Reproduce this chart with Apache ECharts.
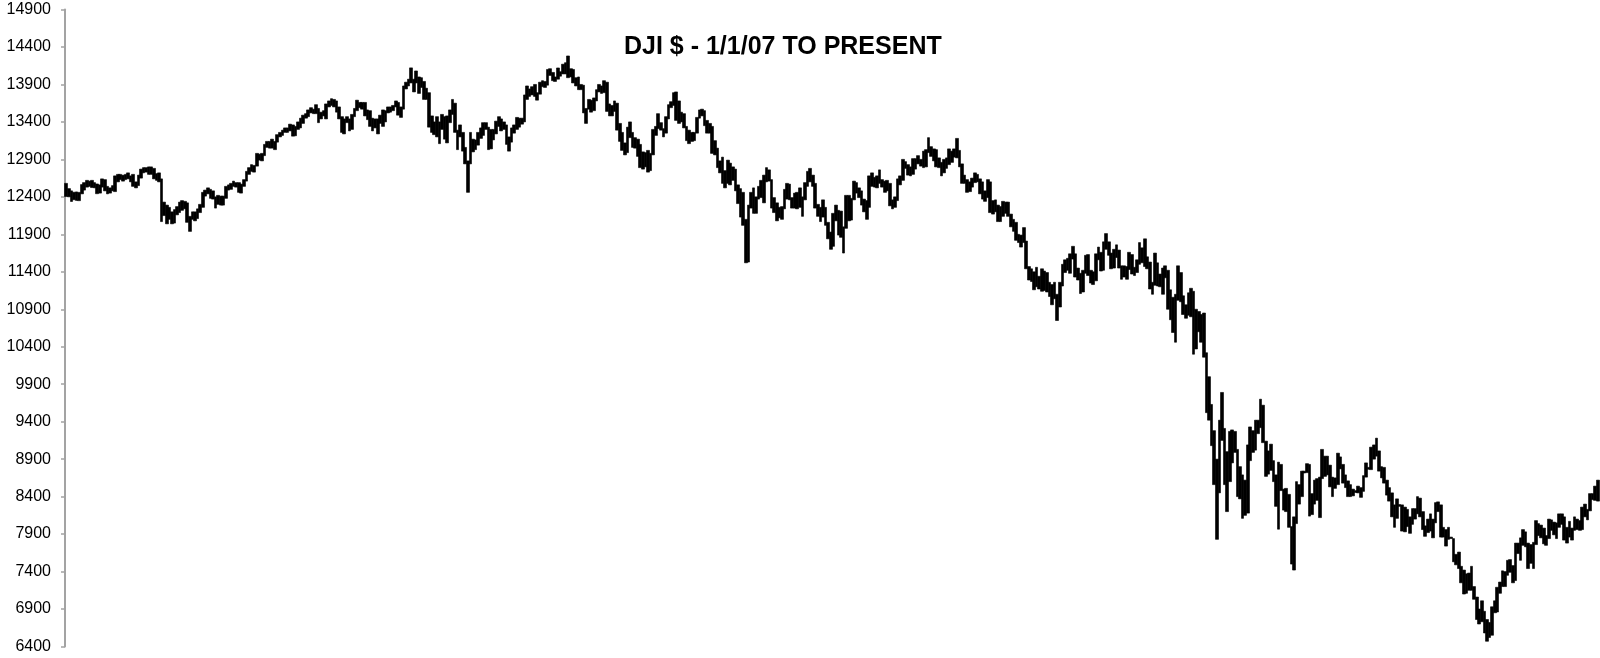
<!DOCTYPE html>
<html>
<head>
<meta charset="utf-8">
<script src="https://cdn.jsdelivr.net/npm/echarts@6/dist/echarts.min.js"></script>
<style>
  html, body { margin: 0; padding: 0; background: #ffffff; }
  #chart { width: 1600px; height: 658px; }
</style>
</head>
<body>
<div id="chart"></div>
<script>
// ---- DATA: daily [low, high] of the DJI ----
const titleText = 'DJI $ - 1/1/07 TO PRESENT';
const yMin = 6400, yMax = 14900, yStep = 500;

const hl2007 = [
  // Jan
  [12404,12580],[12400,12510],[12338,12480],[12361,12462],[12352,12466],[12349,12460],[12440,12564],[12490,12590],[12530,12620],[12540,12610],[12524,12620],[12520,12590],[12442,12572],[12450,12560],[12530,12640],[12480,12630],[12440,12540],[12450,12520],[12480,12550],[12470,12680],
  // Feb
  [12600,12700],[12630,12700],[12610,12690],[12630,12700],[12640,12720],[12600,12680],[12540,12700],[12520,12600],[12550,12690],[12650,12770],[12720,12790],[12730,12790],[12700,12800],[12700,12800],[12640,12780],[12620,12710],[12600,12720],[12070,12640],[12150,12330],
  // Mar
  [12040,12290],[12100,12260],[12040,12200],[12050,12230],[12160,12270],[12190,12330],[12220,12350],[12240,12340],[12060,12320],[11939,12140],[12100,12200],[12080,12200],[12110,12240],[12190,12300],[12260,12460],[12410,12490],[12440,12520],[12380,12500],[12370,12480],[12250,12400],[12300,12420],[12290,12410],
  // Apr
  [12290,12410],[12380,12540],[12490,12560],[12500,12580],[12540,12610],[12530,12590],[12460,12590],[12450,12570],[12540,12630],[12610,12740],[12700,12790],[12740,12830],[12730,12820],[12810,12980],[12890,12970],[12880,12980],[12950,13100],[13060,13140],[13050,13140],[13050,13170],
  // May
  [13030,13140],[13130,13230],[13200,13260],[13220,13290],[13260,13320],[13260,13320],[13280,13370],[13210,13360],[13215,13340],[13300,13400],[13320,13450],[13380,13490],[13450,13510],[13470,13560],[13520,13590],[13510,13570],[13510,13630],[13390,13580],[13440,13530],[13480,13550],[13440,13640],[13600,13680],
  // Jun
  [13620,13710],[13600,13700],[13530,13680],[13440,13600],[13260,13470],[13240,13440],[13390,13470],[13280,13440],[13300,13500],[13470,13580],[13550,13690],[13590,13660],[13570,13660],[13480,13660],[13430,13560],[13340,13550],[13280,13450],[13320,13440],[13240,13440],[13380,13490],[13340,13560],
  // Jul
  [13400,13550],[13520,13600],[13530,13600],[13550,13620],[13600,13680],[13490,13660],[13460,13600],[13570,13880],[13840,13930],[13880,13970],[13920,14121],[13800,13970],[13920,14080],[13780,14000],[13860,13990],[13700,13940],[13700,13850],[13330,13790],[13260,13480],[13230,13400],[13200,13470],
  // Aug
  [13110,13400],[13300,13500],[13170,13470],[13120,13480],[13390,13560],[13500,13700],[13260,13650],[13030,13290],[13200,13360],[13010,13260],[12840,13060],[12460,12880],[12840,13260],[13000,13170],[13030,13160],[13090,13260],[13180,13320],[13220,13390],[13300,13390],[13030,13330],[13040,13300],[13160,13300],[13240,13410],
  // Sep
  [13340,13470],[13280,13440],[13300,13400],[13100,13360],[13010,13200],[13130,13320],[13250,13360],[13300,13460],[13330,13450],[13370,13450],[13400,13760],[13700,13880],[13740,13840],[13760,13870],[13740,13900],[13690,13790],[13770,13930],[13870,13950],[13860,13940],
  // Oct
  [13890,14100],[14020,14110],[13950,14060],[13940,14000],[13970,14120],[14010,14070],[14040,14170],[14040,14190],[13990,14280],[14000,14110],[13920,14100],[13880,13990],[13830,14000],[13830,13900],[13520,13890],[13380,13580],[13570,13700],[13530,13690],[13550,13720],[13680,13830],[13800,13900],[13780,13880],[13790,13950],
  // Nov
  [13540,13930],[13480,13640],[13480,13620],[13540,13680],[13290,13650],[13140,13380],[13020,13260],[12960,13120],[12990,13330],[13190,13400],[13060,13260],[13050,13190],[12940,13170],[12790,13100],[12770,13000],[12800,12990],[12730,13020],[12750,12980],[12960,13300],[13220,13340],[13310,13510],
  // Dec
  [13290,13390],[13200,13310],[13250,13470],[13440,13630],[13590,13670],[13620,13790],[13420,13800],[13380,13680],[13400,13530],[13320,13510],[13150,13340],[13110,13290],[13140,13260],[13150,13260],[13250,13460],[13450,13560],[13480,13570],[13350,13550],[13250,13420],[13250,13380]
];

const hl2008 = [
  // Jan
  [12980,13340],[12960,13150],[12790,13050],[12720,12880],[12580,12930],[12520,12750],[12580,12890],[12560,12850],[12620,12800],[12480,12770],[12310,12560],[12130,12510],[12020,12460],[11520,12100],[11530,12290],[12250,12460],[12180,12520],[12180,12400],[12370,12540],[12390,12620],[12320,12690],
  // Feb
  [12600,12790],[12610,12760],[12250,12630],[12190,12390],[12080,12320],[12120,12260],[12100,12270],[12240,12500],[12370,12580],[12360,12570],[12250,12390],[12250,12450],[12240,12460],[12260,12520],[12140,12400],[12360,12590],[12540,12740],[12600,12780],[12540,12690],[12250,12580],
  // Mar
  [12140,12300],[12070,12260],[12130,12360],[12020,12260],[11840,12060],[11700,11930],[11740,12180],[12080,12290],[11890,12220],[11860,12210],[11650,12000],[11980,12420],[12080,12420],[12090,12380],[12360,12610],[12450,12590],[12390,12520],[12290,12480],[12200,12370],[12100,12350],
  // Apr
  [12260,12680],[12540,12720],[12530,12660],[12520,12680],[12580,12760],[12530,12630],[12460,12610],[12480,12620],[12280,12580],[12240,12360],[12260,12400],[12350,12640],[12560,12680],[12620,12900],[12780,12870],[12690,12830],[12680,12800],[12700,12910],[12770,12910],[12840,12950],[12810,12900],[12790,13010],
  // May
  [12800,13030],[12990,13190],[12940,13070],[12880,13040],[12800,13030],[12790,12920],[12680,12860],[12720,12900],[12780,12920],[12830,13040],[12860,13010],[12930,13040],[12920,13180],[12800,13020],[12580,12840],[12580,12690],[12460,12630],[12470,12600],[12530,12650],[12590,12720],[12600,12700],
  // Jun
  [12440,12640],[12370,12600],[12340,12480],[12390,12630],[12190,12600],[12170,12350],[12200,12360],[12070,12290],[12070,12270],[12140,12340],[12180,12330],[12140,12330],[12000,12170],[11940,12100],[11820,12060],[11790,11900],[11730,11890],[11790,11990],[11440,11810],[11290,11470],[11270,11440],
  // Jul
  [11160,11400],[11200,11460],[11170,11340],[11140,11440],[11150,11410],[11130,11390],[11070,11260],[10960,11230],[11040,11260],[10750,11100],[10930,11260],[11210,11500],[11390,11560],[11420,11580],[11380,11640],[11570,11740],[11330,11640],[11290,11450],[11110,11380],[11130,11420],[11380,11620],[11350,11630],
  // Aug
  [11250,11420],[11230,11400],[11280,11640],[11560,11730],[11410,11660],[11420,11800],[11700,11910],[11620,11800],[11440,11650],[11450,11700],[11590,11760],[11450,11690],[11300,11480],[11330,11480],[11300,11470],[11430,11660],[11370,11630],[11350,11460],[11390,11560],[11500,11790],[11520,11720],
  // Sep
  [11470,11840],[11440,11600],[11170,11530],[11100,11260],[11220,11650],[11210,11520],[11200,11370],[11100,11450],[11320,11480],[10900,11420],[10760,11160],[10590,11060],[10460,11100],[11020,11480],[11000,11390],[10830,11080],[10780,10960],[10820,11120],[10800,11180],[10300,11140],[10370,10900],
  // Oct
  [10600,10870],[10460,10830],[10260,10850],[9520,10320],[9420,10000],[9080,9630],[8560,9280],[7830,8900],[8450,9420],[9150,9790],[8560,9310],[8200,9000],[8600,9270],[8850,9290],[8990,9270],[8400,9030],[8370,8800],[8110,8690],[8150,8620],[8180,9090],[8880,9330],[8990,9280],[9020,9420],
  // Nov
  [9240,9420],[9320,9700],[9120,9620],[8670,9140],[8700,9010],[8750,9100],[8600,8880],[8270,8690],[7965,8860],[8480,8830],[8220,8500],[8200,8510],[7990,8430],[7500,8000],[7420,8130],[8040,8600],[8300,8560],[8400,8740],[8715,8740],[8720,8840],
  // Dec
  [8140,8830],[8160,8440],[8300,8620],[8350,8640],[8120,8660],[8640,9030],[8670,8940],[8690,8940],[8530,8820],[8400,8660],[8510,8650],[8560,8980],[8770,8930],[8580,8830],[8520,8690],[8400,8610],[8400,8560],[8410,8500],[8455,8480],[8450,8540],[8390,8520],[8470,8680],[8660,8850]
];

const hl2009 = [
  // Jan
  [8765,8790],[8760,9060],[8900,9090],[8940,9180],[8740,9010],[8650,8800],[8580,8790],[8420,8620],[8340,8520],[8130,8450],[7990,8290],[8110,8370],[8270,8295],[7940,8290],[7930,8260],[8000,8230],[7910,8130],[8030,8240],[8100,8240],[8170,8400],[8130,8380],[7960,8200],
  // Feb
  [7870,8010],[7920,8100],[7940,8170],[7850,8100],[8050,8320],[8200,8330],[7860,8290],[7860,7990],[7740,7960],[7830,7990],[7840,7860],[7530,7840],[7490,7630],[7440,7660],[7250,7470],[7100,7420],[7110,7370],[7150,7380],[7150,7470],[7030,7200],
  // Mar
  [6760,7060],[6700,6900],[6730,7010],[6580,6870],[6470,6760],[6520,6720],[6550,6930],[6850,7010],[6860,7190],[7110,7260],[7200,7410],[7200,7400],[7350,7550],[7390,7560],[7250,7480],[7280,7780],[7640,7780],[7550,7850],[7750,7960],[7730,7930],[7440,7780],[7510,7760],
  // Apr
  [7440,7790],[7760,8080],[7880,8040],[7850,8020],[7770,7980],[7750,7880],[7840,8100],[7950,8090],[7890,8060],[7840,8050],[7990,8170],[8030,8170],[7820,8130],[7780,7990],[7860,8070],[7820,7980],[7950,8130],[7960,8100],[7950,8080],[7960,8260],[8130,8300],
  // May
  [8090,8230],[8210,8440],[8360,8440],[8350,8540],[8340,8620]
];

// exchange-closed days that do not appear as bars in the source data
const closedDays = ['2007-01-15','2007-02-19','2007-04-06','2007-05-28','2007-07-04','2007-09-03','2007-11-22','2007-12-25',
  '2008-01-01','2008-01-21','2008-02-18','2008-03-21','2008-05-26','2008-07-04','2008-09-01','2009-04-10'];

// ---- build ----
const bars = hl2007.concat(hl2008, hl2009);
const closedSet = new Set(closedDays);
const categories = [];
(function () {
  let t = Date.UTC(2007, 0, 3);
  while (categories.length < bars.length) {
    const d = new Date(t);
    const wd = d.getUTCDay();
    const s = d.toISOString().slice(0, 10);
    if (wd !== 0 && wd !== 6 && !closedSet.has(s)) categories.push(s);
    t += 86400000;
  }
})();
const candle = bars.map(b => [b[0], b[1], b[0], b[1]]);

const chart = echarts.init(document.getElementById('chart'), null, { renderer: 'canvas' });
chart.setOption({
  animation: false,
  backgroundColor: '#ffffff',
  title: {
    text: titleText,
    left: 624,
    top: 35,
    padding: 0,
    textStyle: { fontFamily: 'Liberation Sans, Arial, sans-serif', fontWeight: 'bold', fontSize: 25, color: '#000' }
  },
  grid: { left: 65, right: 1, top: 9.5, bottom: 11.5, containLabel: false },
  xAxis: {
    type: 'category',
    data: categories,
    boundaryGap: true,
    show: false
  },
  yAxis: {
    type: 'value',
    min: yMin, max: yMax, interval: yStep,
    axisLine: { show: true, lineStyle: { color: '#a3a3a3', width: 2 } },
    axisTick: { show: true, inside: false, length: 4, lineStyle: { color: '#a3a3a3', width: 1.5 } },
    axisLabel: { color: '#000', fontSize: 16, lineHeight: 10, fontFamily: 'Liberation Sans, Arial, sans-serif', margin: 14, padding: [5, 0, 0, 0],
      formatter: v => String(v) },
    splitLine: { show: false }
  },
  series: [{
    type: 'candlestick',
    large: false,
    data: candle,
    barWidth: 3.2,
    itemStyle: { color: '#000', color0: '#000', borderColor: '#000', borderColor0: '#000', borderWidth: 0.6 }
  }]
});
</script>
</body>
</html>
